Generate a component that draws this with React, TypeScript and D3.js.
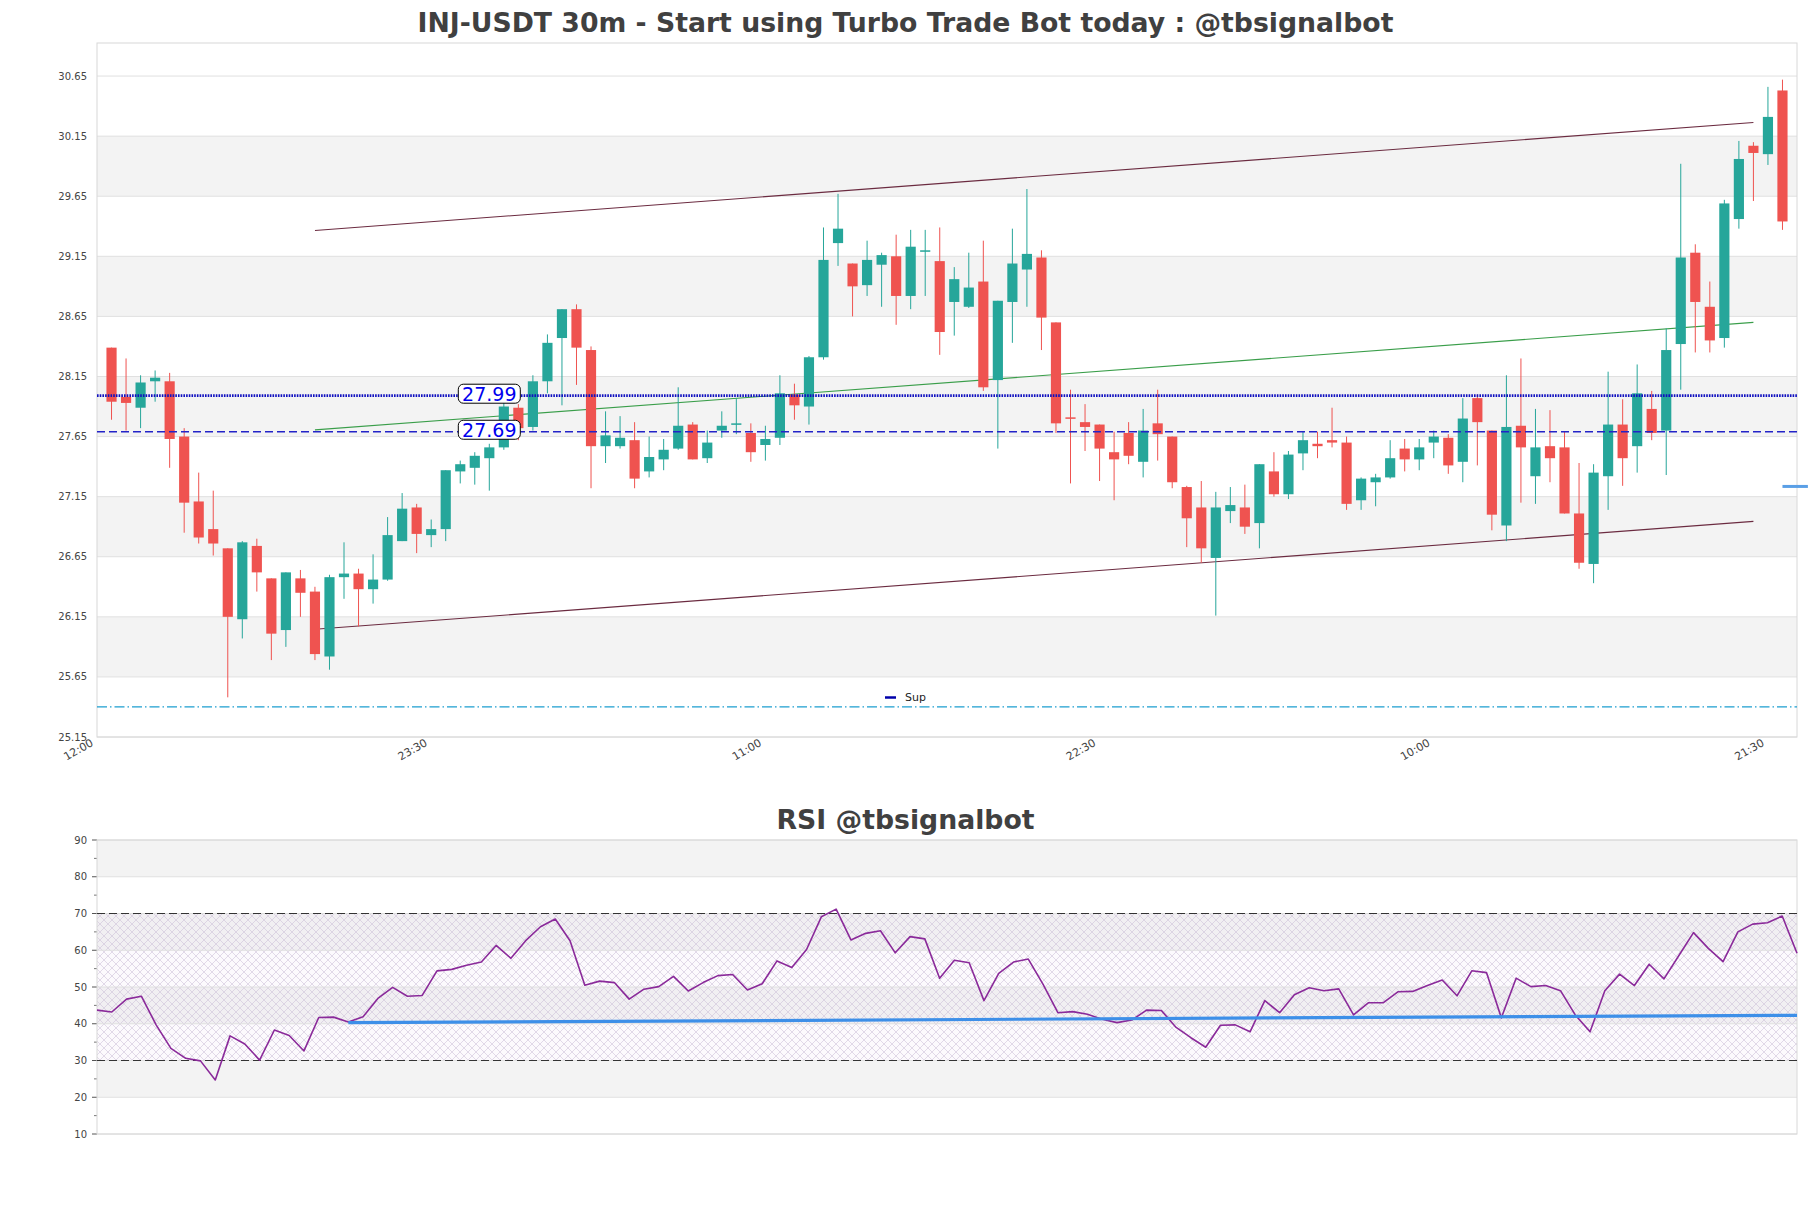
import { useEffect, useRef } from 'react';
import * as d3 from 'd3';

const W = 1811;
const H = 1208;

// candles, one per 30m bar (index 1..116 on the time axis)
const opens = [28.39, 27.98, 27.89, 28.11, 28.11, 27.65, 27.11, 26.88, 26.72, 26.13,
  26.74, 26.47, 26.04, 26.47, 26.36, 25.82, 26.48, 26.51, 26.38, 26.46,
  26.78, 27.06, 26.83, 26.88, 27.36, 27.39, 27.47, 27.56, 27.89, 27.73,
  28.11, 28.47, 28.71, 28.37, 27.57, 27.57, 27.62, 27.36, 27.46, 27.55,
  27.75, 27.47, 27.70, 27.75, 27.68, 27.58, 27.64, 28.00, 27.90, 28.31,
  29.26, 29.09, 28.91, 29.08, 29.15, 28.82, 29.19, 29.11, 28.77, 28.73,
  28.94, 28.12, 28.77, 29.04, 29.14, 28.60, 27.81, 27.77, 27.75, 27.52,
  27.68, 27.44, 27.76, 27.65, 27.23, 27.06, 26.64, 27.03, 27.06, 26.93,
  27.36, 27.17, 27.51, 27.59, 27.62, 27.60, 27.12, 27.27, 27.31, 27.55,
  27.46, 27.60, 27.64, 27.44, 27.97, 27.70, 26.91, 27.74, 27.32, 27.57,
  27.56, 27.01, 26.59, 27.32, 27.75, 27.57, 27.88, 27.70, 28.42, 29.18,
  28.73, 28.47, 29.46, 30.07, 30.00, 30.53];
const highs = [28.39, 28.30, 28.16, 28.20, 28.18, 27.72, 27.35, 27.20, 26.72, 26.78,
  26.80, 26.47, 26.52, 26.54, 26.40, 26.50, 26.77, 26.55, 26.67, 26.98,
  27.18, 27.09, 26.96, 27.37, 27.45, 27.52, 27.59, 27.93, 27.92, 28.16,
  28.50, 28.71, 28.75, 28.40, 27.86, 27.82, 27.77, 27.65, 27.63, 28.06,
  27.77, 27.70, 27.86, 27.97, 27.76, 27.74, 28.16, 28.09, 28.32, 29.39,
  29.67, 29.09, 29.28, 29.18, 29.33, 29.37, 29.37, 29.39, 29.06, 29.18,
  29.28, 28.78, 29.38, 29.71, 29.20, 28.60, 28.04, 27.92, 27.75, 27.69,
  27.77, 27.88, 28.04, 27.65, 27.24, 27.28, 27.19, 27.23, 27.25, 27.42,
  27.52, 27.53, 27.69, 27.69, 27.89, 27.65, 27.31, 27.34, 27.62, 27.63,
  27.63, 27.70, 27.67, 27.97, 28.00, 27.70, 28.16, 28.30, 27.88, 27.87,
  27.69, 27.43, 27.42, 28.19, 27.96, 28.25, 28.03, 28.55, 29.92, 29.25,
  28.94, 29.62, 30.11, 30.10, 30.56, 30.62];
const lows = [27.79, 27.70, 27.72, 27.94, 27.39, 26.85, 26.76, 26.66, 25.48, 25.97,
  26.36, 25.79, 25.90, 26.15, 25.79, 25.71, 26.30, 26.07, 26.26, 26.45,
  26.78, 26.68, 26.73, 26.78, 27.26, 27.25, 27.20, 27.54, 27.62, 27.70,
  28.01, 27.91, 28.08, 27.22, 27.43, 27.55, 27.22, 27.31, 27.37, 27.54,
  27.46, 27.43, 27.64, 27.67, 27.44, 27.45, 27.58, 27.79, 27.75, 28.29,
  29.07, 28.65, 28.82, 28.73, 28.58, 28.71, 28.82, 28.33, 28.49, 28.72,
  28.03, 27.55, 28.43, 28.73, 28.37, 27.68, 27.26, 27.53, 27.28, 27.12,
  27.42, 27.31, 27.45, 27.22, 26.73, 26.60, 26.16, 26.93, 26.84, 26.72,
  27.15, 27.13, 27.37, 27.47, 27.56, 27.04, 27.04, 27.07, 27.30, 27.36,
  27.37, 27.47, 27.34, 27.27, 27.41, 26.87, 26.78, 27.10, 27.09, 27.27,
  27.01, 26.55, 26.43, 27.04, 27.24, 27.35, 27.62, 27.33, 28.04, 28.35,
  28.35, 28.39, 29.38, 29.61, 29.91, 29.37];
const closes = [27.94, 27.93, 28.10, 28.14, 27.63, 27.10, 26.81, 26.76, 26.15, 26.77,
  26.52, 26.01, 26.52, 26.35, 25.84, 26.48, 26.51, 26.38, 26.46, 26.83,
  27.05, 26.84, 26.88, 27.37, 27.42, 27.49, 27.56, 27.90, 27.72, 28.11,
  28.43, 28.71, 28.39, 27.57, 27.66, 27.64, 27.30, 27.48, 27.54, 27.74,
  27.46, 27.60, 27.74, 27.76, 27.52, 27.63, 28.01, 27.91, 28.31, 29.12,
  29.38, 28.90, 29.12, 29.16, 28.82, 29.23, 29.20, 28.52, 28.96, 28.89,
  28.06, 28.78, 29.09, 29.17, 28.64, 27.76, 27.80, 27.73, 27.55, 27.46,
  27.49, 27.70, 27.67, 27.27, 26.97, 26.72, 27.06, 27.08, 26.90, 27.42,
  27.17, 27.50, 27.62, 27.57, 27.60, 27.09, 27.30, 27.31, 27.47, 27.46,
  27.56, 27.65, 27.41, 27.80, 27.77, 27.00, 27.73, 27.56, 27.56, 27.47,
  27.01, 26.60, 27.35, 27.75, 27.47, 28.01, 27.68, 28.37, 29.14, 28.77,
  28.45, 29.59, 29.96, 30.01, 30.31, 29.44];

const timeTicks = [0, 23, 46, 69, 92, 115];
const timeLabels = ['12:00', '23:30', '11:00', '22:30', '10:00', '21:30'];
const priceTicks = [25.15, 25.65, 26.15, 26.65, 27.15, 27.65, 28.15, 28.65, 29.15, 29.65, 30.15, 30.65];

// channel / trend lines: [bar index, price]
const channelUpper = [[15, 29.365], [114, 30.264]];
const channelMid = [[15, 27.706], [114, 28.60]];
const channelLower = [[15, 26.046], [114, 26.944]];
const supDotted = 27.99;
const supDashed = 27.69;
const supLow = 25.40;
const markerLevel = [[116, 27.235], [117.75, 27.235]];
const labelAt = 27;

const rsiValues = [43.7, 43.2, 46.7, 47.5, 39.7, 33.3, 30.6, 29.9, 24.7, 36.7,
  34.5, 30.1, 38.3, 36.8, 32.6, 41.7, 41.8, 40.5, 41.9, 46.9,
  49.9, 47.5, 47.7, 54.4, 54.8, 55.9, 56.8, 61.3, 57.8, 62.6,
  66.4, 68.5, 62.6, 50.5, 51.6, 51.2, 46.7, 49.4, 50.1, 52.9,
  48.9, 51.2, 53.1, 53.4, 49.2, 50.9, 57.1, 55.3, 60.2, 69.1,
  71.2, 62.8, 64.6, 65.3, 59.3, 63.7, 63.1, 52.4, 57.3, 56.6,
  46.3, 53.7, 56.8, 57.6, 50.7, 43.0, 43.3, 42.6, 41.2, 40.3,
  41.0, 43.7, 43.6, 39.0, 36.2, 33.6, 39.6, 39.7, 37.8, 46.3,
  43.0, 47.9, 49.8, 49.0, 49.5, 42.4, 45.7, 45.7, 48.7, 48.8,
  50.4, 51.9, 47.6, 54.4, 53.9, 41.6, 52.4, 50.1, 50.4, 49.0,
  42.4, 37.8, 49.0, 53.5, 50.4, 56.2, 52.2, 58.5, 64.8, 60.5,
  56.9, 65.0, 67.1, 67.5, 69.3, 59.2];
const rsiTicks = [10, 20, 30, 40, 50, 60, 70, 80, 90];
const rsiMinor = [15, 25, 35, 45, 55, 65, 75, 85];
const rsiTrend = [[17, 40.3], [115, 42.3]];

const FONT = 'DejaVu Sans, Verdana, sans-serif';

export default function App() {
  const svgRef = useRef<SVGSVGElement>(null);

  useEffect(() => {
    if (!svgRef.current) return;
    const svg = d3.select(svgRef.current);
    svg.attr('width', W).attr('height', H).selectAll('*').remove();
    svg.append('rect').attr('width', W).attr('height', H).attr('fill', '#fff');

    const defs = svg.append('defs');
    const pat = defs.append('pattern').attr('id', 'hatch')
      .attr('patternUnits', 'userSpaceOnUse').attr('width', 8).attr('height', 8);
    pat.append('rect').attr('width', 8).attr('height', 8).attr('fill', 'rgba(190,150,210,0.05)');
    pat.append('path').attr('d', 'M0,0L8,8M8,0L0,8M-1,7L1,9M7,-1L9,1')
      .attr('stroke', '#cfc3da').attr('stroke-width', 0.6).attr('fill', 'none');

    // ---------- price panel ----------
    const x = d3.scaleLinear().domain([0, 117]).range([97, 1797]);
    const y = d3.scaleLinear().domain([25.15, 30.925]).range([737, 43]);
    const [x0, x1] = x.range();
    const [yb, yt] = y.range();

    svg.append('text').attr('x', W / 2).attr('y', 32).attr('text-anchor', 'middle')
      .attr('font-family', FONT).attr('font-weight', 'bold').attr('font-size', 26.7)
      .attr('fill', '#404040').text('INJ-USDT 30m - Start using Turbo Trade Bot today : @tbsignalbot');

    const g = svg.append('g');
    priceTicks.forEach((t, k) => {
      if (k % 2 === 1 && k < priceTicks.length - 1) {
        g.append('rect').attr('x', x0).attr('width', x1 - x0)
          .attr('y', y(priceTicks[k + 1])).attr('height', y(t) - y(priceTicks[k + 1]))
          .attr('fill', '#f3f3f3');
      }
    });
    priceTicks.forEach((t) => {
      g.append('line').attr('x1', x0).attr('x2', x1).attr('y1', y(t)).attr('y2', y(t))
        .attr('stroke', '#e0e0e0').attr('stroke-width', 1);
      g.append('text').attr('x', x0 - 10).attr('y', y(t) + 3.5).attr('text-anchor', 'end')
        .attr('font-family', FONT).attr('font-size', 10).attr('fill', '#444').text(t.toFixed(2));
    });
    g.append('rect').attr('x', x0).attr('y', yt).attr('width', x1 - x0).attr('height', yb - yt)
      .attr('fill', 'none').attr('stroke', '#d8d8d8');

    timeTicks.forEach((t, k) => {
      g.append('text').attr('transform', `translate(${x(t) - 3},${yb + 8}) rotate(-30)`)
        .attr('text-anchor', 'end').attr('font-family', FONT).attr('font-size', 11)
        .attr('fill', '#444').text(timeLabels[k]);
    });

    const line = d3.line<number[]>().x((d) => x(d[0])).y((d) => y(d[1]));
    [channelUpper, channelLower].forEach((c) => {
      g.append('path').datum(c).attr('d', line).attr('fill', 'none')
        .attr('stroke', '#6b2b40').attr('stroke-width', 1.1);
    });
    g.append('path').datum(channelMid).attr('d', line).attr('fill', 'none')
      .attr('stroke', '#3a9e4a').attr('stroke-width', 1.1);

    // candles
    const bw = (x(1) - x(0)) * 0.7;
    opens.forEach((o, k) => {
      const i = k + 1;
      const c = closes[k];
      const col = c >= o ? '#26a69a' : '#ef5350';
      g.append('line').attr('x1', x(i)).attr('x2', x(i)).attr('y1', y(highs[k])).attr('y2', y(lows[k]))
        .attr('stroke', col).attr('stroke-width', 1);
      const top = y(Math.max(o, c));
      const h = Math.max(1.5, Math.abs(y(o) - y(c)));
      g.append('rect').attr('x', x(i) - bw / 2).attr('width', bw).attr('y', top).attr('height', h)
        .attr('fill', col);
    });

    // support levels
    g.append('line').attr('x1', x0).attr('x2', x1).attr('y1', y(supDotted)).attr('y2', y(supDotted))
      .attr('stroke', '#1010c0').attr('stroke-width', 2.8).attr('stroke-dasharray', '1.6,1.1');
    g.append('line').attr('x1', x0).attr('x2', x1).attr('y1', y(supDashed)).attr('y2', y(supDashed))
      .attr('stroke', '#2323c8').attr('stroke-width', 1.3).attr('stroke-dasharray', '8,4');
    g.append('line').attr('x1', x0).attr('x2', x1).attr('y1', y(supLow)).attr('y2', y(supLow))
      .attr('stroke', '#1c9ecf').attr('stroke-width', 1.3).attr('stroke-dasharray', '10,3,1.5,3');
    g.append('path').datum(markerLevel).attr('d', line).attr('fill', 'none')
      .attr('stroke', '#5a9fe6').attr('stroke-width', 3);

    [supDotted, supDashed].forEach((p) => {
      const cx = x(labelAt);
      const cy = y(p) - 2;
      g.append('rect').attr('x', cx - 31).attr('y', cy - 9.5).attr('width', 62).attr('height', 19)
        .attr('rx', 5).attr('fill', '#fff').attr('stroke', '#000').attr('stroke-width', 1);
      g.append('text').attr('x', cx).attr('y', cy + 6.8).attr('text-anchor', 'middle')
        .attr('font-family', FONT).attr('font-size', 19).attr('fill', '#0000ee').text(p.toFixed(2));
    });

    // legend
    g.append('line').attr('x1', 885).attr('x2', 896).attr('y1', 697.5).attr('y2', 697.5)
      .attr('stroke', '#0000aa').attr('stroke-width', 2.5);
    g.append('text').attr('x', 905).attr('y', 701).attr('font-family', FONT).attr('font-size', 11)
      .attr('fill', '#222').text('Sup');

    // ---------- RSI panel ----------
    const rx = d3.scaleLinear().domain([0, rsiValues.length - 1]).range([97, 1797]);
    const ry = d3.scaleLinear().domain([10, 90]).range([1134, 840]);
    const r = svg.append('g');

    svg.append('text').attr('x', W / 2).attr('y', 829).attr('text-anchor', 'middle')
      .attr('font-family', FONT).attr('font-weight', 'bold').attr('font-size', 26.7)
      .attr('fill', '#404040').text('RSI @tbsignalbot');

    rsiTicks.forEach((t, k) => {
      if (k % 2 === 1 && k < rsiTicks.length - 1) {
        r.append('rect').attr('x', x0).attr('width', x1 - x0)
          .attr('y', ry(rsiTicks[k + 1])).attr('height', ry(t) - ry(rsiTicks[k + 1]))
          .attr('fill', '#f3f3f3');
      }
    });
    r.append('rect').attr('x', x0).attr('width', x1 - x0).attr('y', ry(70)).attr('height', ry(30) - ry(70))
      .attr('fill', 'url(#hatch)');
    rsiTicks.forEach((t) => {
      r.append('line').attr('x1', x0).attr('x2', x1).attr('y1', ry(t)).attr('y2', ry(t))
        .attr('stroke', '#e0e0e0');
      r.append('line').attr('x1', x0 - 5).attr('x2', x0).attr('y1', ry(t)).attr('y2', ry(t))
        .attr('stroke', '#555');
      r.append('text').attr('x', x0 - 10).attr('y', ry(t) + 3.5).attr('text-anchor', 'end')
        .attr('font-family', FONT).attr('font-size', 10).attr('fill', '#444').text(t);
    });
    rsiMinor.forEach((t) => {
      r.append('line').attr('x1', x0 - 3).attr('x2', x0).attr('y1', ry(t)).attr('y2', ry(t))
        .attr('stroke', '#777');
    });
    r.append('rect').attr('x', x0).attr('y', ry(90)).attr('width', x1 - x0).attr('height', ry(10) - ry(90))
      .attr('fill', 'none').attr('stroke', '#d8d8d8');
    [70, 30].forEach((v) => {
      r.append('line').attr('x1', x0).attr('x2', x1).attr('y1', ry(v)).attr('y2', ry(v))
        .attr('stroke', '#333').attr('stroke-width', 1.2).attr('stroke-dasharray', '8,4');
    });

    const rline = d3.line<number>().x((_, j) => rx(j)).y((d) => ry(d));
    r.append('path').datum(rsiValues).attr('d', rline).attr('fill', 'none')
      .attr('stroke', '#8a2a9a').attr('stroke-width', 1.6).attr('stroke-linejoin', 'round');
    r.append('path').datum(rsiTrend)
      .attr('d', d3.line<number[]>().x((d) => rx(d[0])).y((d) => ry(d[1])))
      .attr('fill', 'none').attr('stroke', '#3d8fe8').attr('stroke-width', 3.2);
  }, []);

  return <svg ref={svgRef} style={{ display: 'block', position: 'absolute', left: 0, top: 0 }} />;
}
